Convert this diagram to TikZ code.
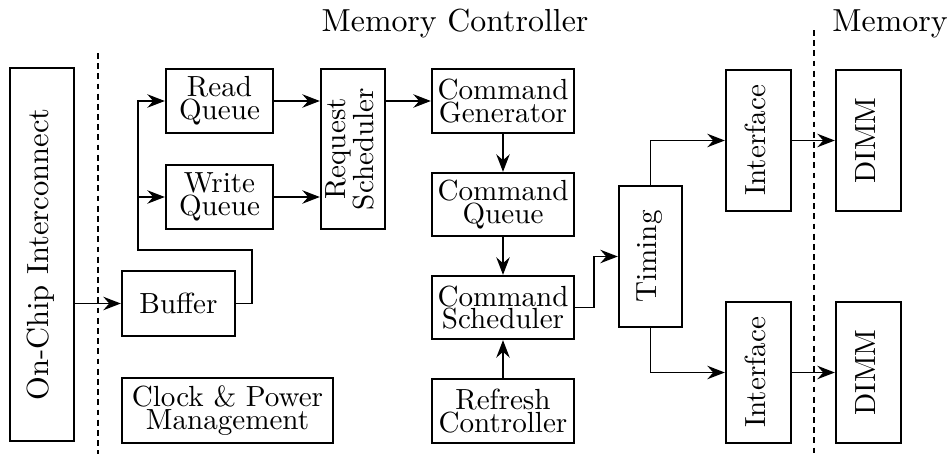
\documentclass[tikz,border=0pt]{standalone}
\usetikzlibrary{arrows.meta,calc}
\def\pxu{0.3436pt}
\tikzset{
  box/.style={draw, line width=0.8pt, inner sep=1pt, align=center,
    font={\fontsize{10}{7.8}\selectfont\lineskip=0pt}},
  sz/.style 2 args={minimum width=#1*\pxu, minimum height=#2*\pxu},
  link/.style={line width=0.65pt},
  arr/.style={link, -{Stealth[length=6pt,width=4.6pt,inset=2pt]}},
  divider/.style={line width=0.65pt, dash pattern=on 2pt off 1.5pt},
  title/.style={font=\fontsize{10.95}{13.6}\selectfont, anchor=base},
}
\newcommand\vtext[1]{\rotatebox{90}{\begin{tabular}{@{}c@{}}#1\end{tabular}}}
\begin{document}
\begin{tikzpicture}[x=0.3436pt, y=-0.3436pt]
\useasboundingbox (0,0) rectangle (951,454);

% region dividers and titles
\coordinate (d1t) at (98,53);  \coordinate (d1b) at (98,454);
\coordinate (d2t) at (814,30); \coordinate (d2b) at (814,454);
\draw[divider] (d1t) -- (d1b);
\draw[divider] (d2t) -- (d2b);
\node[title] (tmc) at (455,32) {Memory Controller};
\node[title] (tmem) at (890,32) {Memory};

% blocks
\node[box, sz={64}{373}, font=\fontsize{10.5}{12}\selectfont] (chip) at (42,254.5) {\vtext{On-Chip Interconnect}};
\node[box, sz={113}{65}] (buffer) at (178.5,303.5) {Buffer};
\node[box, sz={107}{64}] (read) at (219.5,101) {Read\\Queue};
\node[box, sz={107}{64}] (write) at (219.5,197) {Write\\Queue};
\node[box, sz={64}{160}] (rsched) at (353,149) {\vtext{Request\\Scheduler}};
\node[box, sz={142}{64}] (cgen) at (503,101) {Command\\Generator};
\node[box, sz={142}{63}] (cq) at (503,204.5) {Command\\Queue};
\node[box, sz={142}{63}] (csched) at (503,307.5) {Command\\Scheduler};
\node[box, sz={142}{64}] (refresh) at (503,411) {Refresh\\Controller};
\node[box, sz={211}{65}] (clock) at (227.5,410.5) {Clock \& Power\\Management};
\node[box, sz={63}{141}] (timing) at (650.5,256.5) {\vtext{Timing}};
\node[box, sz={65}{141}] (if1) at (758.5,140.5) {\vtext{Interface}};
\node[box, sz={65}{141}] (if2) at (758.5,372.5) {\vtext{Interface}};
\node[box, sz={65}{141}] (dimm1) at (868.5,140.5) {\vtext{DIMM}};
\node[box, sz={65}{141}] (dimm2) at (868.5,372.5) {\vtext{DIMM}};

% routing points
\coordinate (j1) at (252,250);
\coordinate (j2) at (138,250);
\coordinate (j3) at (594,256.5);

% connectors
\draw[arr] (buffer.west -| chip.east) -- (buffer.west);
\draw[arr] (buffer.east) -| (j1) -- (j2) |- (read.west);
\draw[arr] (write.west -| j2) -- (write.west);
\draw[arr] (read.east) -- (read.east -| rsched.west);
\draw[arr] (write.east) -- (write.east -| rsched.west);
\draw[arr] (cgen.west -| rsched.east) -- (cgen.west);
\draw[arr] (cgen.south) -- (cq.north);
\draw[arr] (cq.south) -- (csched.north);
\draw[arr] (refresh.north) -- (csched.south);
\draw[arr] (csched.east) -| (j3) -- (timing.west);
\draw[arr] (timing.north) |- (if1.west);
\draw[arr] (timing.south) |- (if2.west);
\draw[arr] (if1.east) -- (dimm1.west);
\draw[arr] (if2.east) -- (dimm2.west);
\end{tikzpicture}
\end{document}
